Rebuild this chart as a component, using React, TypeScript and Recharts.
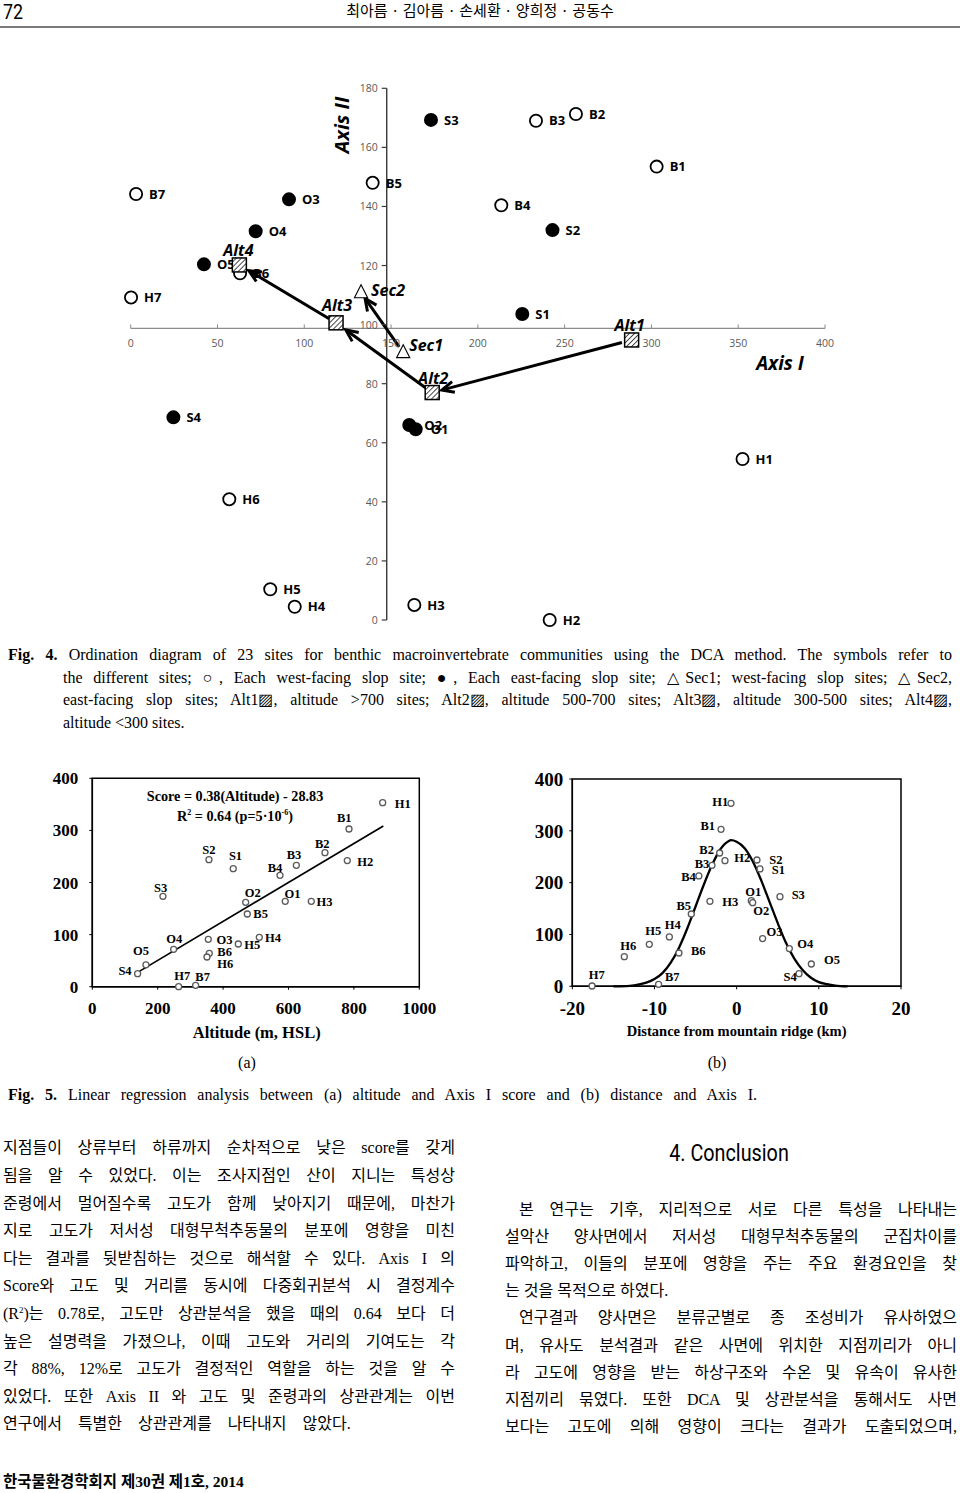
import React from 'react';
import {
  ScatterChart, Scatter, ComposedChart, Line, XAxis, YAxis,
  ReferenceLine, ReferenceDot, ReferenceArea,
} from 'recharts';

// ---------------- Fig. 4 : DCA ordination ----------------
const westSites = [
  { name: 'B1', x: 303, y: 153.5 },
  { name: 'B2', x: 256.5, y: 171.3 },
  { name: 'B3', x: 233.5, y: 169 },
  { name: 'B4', x: 213.5, y: 140.4 },
  { name: 'B5', x: 139.4, y: 148 },
  { name: 'B6', x: 63, y: 117.4 },
  { name: 'B7', x: 3.1, y: 144.2 },
  { name: 'H1', x: 352.5, y: 54.5 },
  { name: 'H2', x: 241.4, y: 0 },
  { name: 'H3', x: 163.4, y: 5.1 },
  { name: 'H4', x: 94.5, y: 4.5 },
  { name: 'H5', x: 80.4, y: 10.4 },
  { name: 'H6', x: 56.8, y: 40.9 },
  { name: 'H7', x: 0.2, y: 109.2 },
];
const eastSites = [
  { name: 'S1', x: 225.6, y: 103.6 },
  { name: 'S2', x: 243, y: 132 },
  { name: 'S3', x: 173, y: 169.3 },
  { name: 'S4', x: 24.6, y: 68.6 },
  { name: 'O2', x: 160.5, y: 66 },
  { name: 'O1', x: 164.2, y: 64.6 },
  { name: 'O3', x: 91.2, y: 142.4 },
  { name: 'O4', x: 72, y: 131.6 },
  { name: 'O5', x: 42.2, y: 120.4 },
];
const slopeCentroids = [
  { name: 'Sec1', x: 157, y: 90.5 },
  { name: 'Sec2', x: 132.7, y: 110.8 },
];
const altitudeCentroids = [
  { name: 'Alt1', x: 288.6, y: 94.8 },
  { name: 'Alt2', x: 173.7, y: 77 },
  { name: 'Alt3', x: 118.3, y: 100.6 },
  { name: 'Alt4', x: 62.6, y: 120.2 },
];
const gradientArrows = [
  ['Alt1', 'Alt2'],
  ['Alt2', 'Alt3'],
  ['Alt3', 'Alt4'],
  ['Sec1', 'Sec2'],
];
const dcaXTicks = [0, 50, 100, 150, 200, 250, 300, 350, 400];
const dcaYTicks = [0, 20, 40, 60, 80, 100, 120, 140, 160, 180];
const dcaAxisCross = { x: 147.5, y: 98.7 };

// ---------------- Fig. 5a : altitude vs Axis I ----------------
const altitudeScores = [
  { name: 'S4', altitude: 138.6, score: 25 },
  { name: 'O5', altitude: 164, score: 42 },
  { name: 'O4', altitude: 248.7, score: 71.7 },
  { name: 'S3', altitude: 216, score: 173.4 },
  { name: 'S2', altitude: 356.8, score: 243.8 },
  { name: 'S1', altitude: 431, score: 226.6 },
  { name: 'H7', altitude: 264, score: 0 },
  { name: 'B7', altitude: 316, score: 2.6 },
  { name: 'O3', altitude: 354.7, score: 90.9 },
  { name: 'B6', altitude: 357.8, score: 64 },
  { name: 'H6', altitude: 350.7, score: 57 },
  { name: 'H5', altitude: 446.5, score: 82 },
  { name: 'H4', altitude: 510.7, score: 94.7 },
  { name: 'O2', altitude: 469, score: 162 },
  { name: 'B5', altitude: 474, score: 139.5 },
  { name: 'B4', altitude: 574, score: 213.8 },
  { name: 'O1', altitude: 590, score: 163.8 },
  { name: 'B3', altitude: 624, score: 233 },
  { name: 'H3', altitude: 669.7, score: 163.8 },
  { name: 'B2', altitude: 711.5, score: 257.3 },
  { name: 'H2', altitude: 779.8, score: 242 },
  { name: 'B1', altitude: 785, score: 302.7 },
  { name: 'H1', altitude: 888, score: 353.3 },
];
const altitudeTrend = [
  { altitude: 140, score: 28 },
  { altitude: 890, score: 308.5 },
];
const altitudeTicks = [0, 200, 400, 600, 800, 1000];
const scoreTicks = [0, 100, 200, 300, 400];

// ---------------- Fig. 5b : distance vs Axis I ----------------
const distanceScores = [
  { name: 'H1', distance: -0.69, score: 353 },
  { name: 'B1', distance: -1.9, score: 302.9 },
  { name: 'B2', distance: -2.07, score: 257.2 },
  { name: 'H2', distance: -1.42, score: 242.4 },
  { name: 'B3', distance: -3.0, score: 233.4 },
  { name: 'B4', distance: -4.6, score: 212.9 },
  { name: 'H3', distance: -3.25, score: 164 },
  { name: 'B5', distance: -5.52, score: 139.5 },
  { name: 'H4', distance: -8.19, score: 95.2 },
  { name: 'H5', distance: -10.63, score: 81 },
  { name: 'H6', distance: -13.67, score: 57.2 },
  { name: 'B6', distance: -7.02, score: 64.3 },
  { name: 'H7', distance: -17.6, score: 0.6 },
  { name: 'B7', distance: -9.5, score: 3.9 },
  { name: 'S2', distance: 2.47, score: 243.7 },
  { name: 'S1', distance: 2.84, score: 226.4 },
  { name: 'O1', distance: 1.78, score: 165.3 },
  { name: 'O2', distance: 1.95, score: 161.4 },
  { name: 'S3', distance: 5.27, score: 173 },
  { name: 'O3', distance: 3.16, score: 92 },
  { name: 'O4', distance: 6.41, score: 72.7 },
  { name: 'O5', distance: 9.09, score: 43 },
  { name: 'S4', distance: 7.59, score: 24.4 },
];
const distanceCurve = [
  { distance: -15, score: 0 },
  { distance: -13, score: 1 },
  { distance: -12, score: 3 },
  { distance: -11, score: 7 },
  { distance: -10, score: 14 },
  { distance: -9, score: 26 },
  { distance: -8, score: 46 },
  { distance: -7, score: 75 },
  { distance: -6, score: 112 },
  { distance: -5, score: 154 },
  { distance: -4, score: 196 },
  { distance: -3, score: 234 },
  { distance: -2, score: 264 },
  { distance: -1, score: 280 },
  { distance: -0.7, score: 282 },
  { distance: 0, score: 279 },
  { distance: 1, score: 266 },
  { distance: 2, score: 240 },
  { distance: 3, score: 204 },
  { distance: 4, score: 163 },
  { distance: 5, score: 122 },
  { distance: 6, score: 84 },
  { distance: 7, score: 54 },
  { distance: 8, score: 32 },
  { distance: 9, score: 17 },
  { distance: 10, score: 8 },
  { distance: 11, score: 4 },
  { distance: 12, score: 1.5 },
  { distance: 13.5, score: 0 },
];
const distanceTicks = [-20, -10, 0, 10, 20];

// ---------------- text ----------------
const bodyLeft = [
  '지점들이 상류부터 하류까지 순차적으로 낮은 score를 갖게',
  '됨을 알 수 있었다. 이는 조사지점인 산이 지니는 특성상',
  '준령에서 멀어질수록 고도가 함께 낮아지기 때문에, 마찬가',
  '지로 고도가 저서성 대형무척추동물의 분포에 영향을 미친',
  '다는 결과를 뒷받침하는 것으로 해석할 수 있다. Axis I 의',
  'Score와 고도 및 거리를 동시에 다중회귀분석 시 결정계수',
  'R2LINE',
  '높은 설명력을 가졌으나, 이때 고도와 거리의 기여도는 각',
  '각 88%, 12%로 고도가 결정적인 역할을 하는 것을 알 수',
  '있었다. 또한 Axis II 와 고도 및 준령과의 상관관계는 이번',
  '연구에서 특별한 상관관계를 나타내지 않았다.',
];
const bodyRight = [
  '본 연구는 기후, 지리적으로 서로 다른 특성을 나타내는',
  '설악산 양사면에서 저서성 대형무척추동물의 군집차이를',
  '파악하고, 이들의 분포에 영향을 주는 주요 환경요인을 찾',
  '는 것을 목적으로 하였다.',
  '연구결과 양사면은 분류군별로 종 조성비가 유사하였으',
  '며, 유사도 분석결과 같은 사면에 위치한 지점끼리가 아니',
  '라 고도에 영향을 받는 하상구조와 수온 및 유속이 유사한',
  '지점끼리 묶였다. 또한 DCA 및 상관분석을 통해서도 사면',
  '보다는 고도에 의해 영향이 크다는 결과가 도출되었으며,',
];

// ---------------- styles ----------------
const SANS = '"Open Sans", "Noto Sans", sans-serif';
const SERIF = '"Liberation Serif", "Times New Roman", serif';
const KR = '"Liberation Serif", "Noto Sans CJK KR", serif';

const ptLabel: React.CSSProperties = { fontFamily: SANS, fontWeight: 700, fontSize: 13, fill: '#000' };
const centroidLabel: React.CSSProperties = { fontFamily: SANS, fontWeight: 700, fontStyle: 'italic', fontSize: 16, fill: '#000' };
const dcaTickFont: React.CSSProperties = { fontFamily: SANS, fontSize: 10.5, fill: '#595959' };
const smallLabel: React.CSSProperties = { fontFamily: SERIF, fontWeight: 700, fontSize: 12.5, fill: '#000' };

const centroidLabelPos: Record<string, [number, number, 'start' | 'middle']> = {
  Alt1: [-2, -15, 'middle'],
  Alt2: [1, -14, 'middle'],
  Alt3: [1, -18, 'middle'],
  Alt4: [-1, -15, 'middle'],
  Sec1: [6, -7, 'start'],
  Sec2: [10, -3, 'start'],
};
const arrowGaps: Record<string, [number, number]> = {
  'Alt1>Alt2': [10, 10],
  'Alt2>Alt3': [7, 12],
  'Alt3>Alt4': [8, 11],
  'Sec1>Sec2': [7, 7],
};

type Anchor = 'start' | 'middle' | 'end';
const labelPosA: Record<string, [number, number, Anchor]> = {
  H1: [12, 1, 'start'], B1: [-4.7, -10.7, 'middle'], B2: [-2.7, -9.3, 'middle'],
  H2: [10, 1, 'start'], B3: [-2.3, -11, 'middle'], B4: [-5, -8, 'middle'],
  S2: [0, -10.3, 'middle'], S1: [2.3, -13, 'middle'], S3: [-2.3, -8.7, 'middle'],
  O2: [7, -9.3, 'middle'], O1: [7.3, -7.7, 'middle'], H3: [5.3, 0, 'start'],
  B5: [6, 0, 'start'], H4: [5.7, 0, 'start'], H5: [6, 1, 'start'],
  O3: [8.3, 0.7, 'start'], B6: [8, -1.7, 'start'], H6: [10.3, 6.3, 'start'],
  O4: [0.7, -10.3, 'middle'], O5: [-5, -13.7, 'middle'], S4: [-6, -2.7, 'end'],
  H7: [3.7, -11.3, 'middle'], B7: [7, -8.7, 'middle'],
};
const labelPosB: Record<string, [number, number, Anchor]> = {
  H1: [-2.7, -2, 'end'], B1: [-6, -3.7, 'end'], B2: [-5.7, -3.7, 'end'],
  H2: [9.3, -3.3, 'start'], B3: [-2.7, -1.3, 'end'], B4: [-3, 0.7, 'end'],
  H3: [12.3, 0, 'start'], B5: [-0.3, -8, 'end'], H4: [3.3, -12.3, 'middle'],
  H5: [4, -13.3, 'middle'], H6: [4, -10.7, 'middle'], B6: [12, -1.7, 'start'],
  H7: [4.7, -11.3, 'middle'], B7: [6.3, -7.7, 'start'], S2: [12.3, 0, 'start'],
  S1: [11.7, 1, 'start'], O1: [2, -8.7, 'middle'], O2: [0.7, 8.3, 'start'],
  S3: [11.7, -1.7, 'start'], O3: [4, -6.7, 'start'], O4: [8, -5, 'start'],
  O5: [12.7, -4.3, 'start'], S4: [-2.3, 3, 'end'],
};

// ---------------- shapes ----------------
const siteShape = (filled: boolean) => (p: any) => {
  const { cx, cy, payload } = p;
  const dx = payload.name === 'O1' || payload.name === 'O2' ? 15 : 13;
  return (
    <g>
      <circle cx={cx} cy={cy} r={6.1} fill={filled ? '#000' : '#fff'} stroke="#000" strokeWidth={1.8} />
      <text x={cx + dx} y={cy + 4.7} style={ptLabel}>{payload.name}</text>
    </g>
  );
};
const triangleShape = (p: any) => {
  const { cx, cy, payload } = p;
  const [dx, dy, anchor] = centroidLabelPos[payload.name];
  return (
    <g>
      <path d={`M${cx},${cy - 8} L${cx - 6.6},${cy + 5} L${cx + 6.6},${cy + 5} Z`} fill="#fff" stroke="#000" strokeWidth={1.1} />
      <text x={cx + dx} y={cy + dy + 5.8} textAnchor={anchor} style={centroidLabel}>{payload.name}</text>
    </g>
  );
};
const squareShape = (p: any) => {
  const { cx, cy, payload } = p;
  const [dx, dy, anchor] = centroidLabelPos[payload.name];
  return (
    <g>
      <rect x={cx - 7} y={cy - 7} width={14} height={14} fill="#fff" />
      <rect x={cx - 7} y={cy - 7} width={14} height={14} fill="url(#hatch)" stroke="#000" strokeWidth={1.5} />
      <text x={cx + dx} y={cy + dy + 5.8} textAnchor={anchor} style={centroidLabel}>{payload.name}</text>
    </g>
  );
};
const arrowShape = (gap: [number, number]) => (p: any) => {
  const { x1, y1, x2, y2 } = p;
  if ([x1, y1, x2, y2].some((v) => typeof v !== 'number' || isNaN(v))) return <g />;
  const len = Math.hypot(x2 - x1, y2 - y1);
  const ux = (x2 - x1) / len;
  const uy = (y2 - y1) / len;
  const sx = x1 + ux * gap[0];
  const sy = y1 + uy * gap[0];
  const ex = x2 - ux * gap[1];
  const ey = y2 - uy * gap[1];
  const ah = 12;
  const aw = 5.5;
  const bx = ex - ux * ah;
  const by = ey - uy * ah;
  return (
    <g>
      <line x1={sx} y1={sy} x2={ex - ux * 1.5} y2={ey - uy * 1.5} stroke="#000" strokeWidth={3} />
      <polyline
        points={`${bx - uy * aw},${by + ux * aw} ${ex},${ey} ${bx + uy * aw},${by - ux * aw}`}
        fill="none" stroke="#000" strokeWidth={3} strokeLinejoin="miter"
      />
    </g>
  );
};
const smallPointShape = (pos: Record<string, [number, number, Anchor]>) => (p: any) => {
  const { cx, cy, payload } = p;
  const [dx, dy, anchor] = pos[payload.name] || [8, 0, 'start'];
  return (
    <g>
      <circle cx={cx} cy={cy} r={3} fill="#fff" stroke="#5a5a5a" strokeWidth={1.3} />
      <text x={cx + dx} y={cy + dy + 4.2} textAnchor={anchor} style={smallLabel}>{payload.name}</text>
    </g>
  );
};

// ---------------- helpers ----------------
const Abs = ({ x, y, children, style }: any) => (
  <div style={{ position: 'absolute', left: x, top: y, transform: 'translate(-50%,-50%)', whiteSpace: 'nowrap', lineHeight: 1, ...style }}>
    {children}
  </div>
);
const JLine = ({ left, top, width, size, justify = true, children, style }: any) => (
  <div
    style={{
      position: 'absolute', left, top, width, fontSize: size, lineHeight: `${Math.round(size * 1.25)}px`,
      textAlign: justify ? 'justify' : 'left', textAlignLast: justify ? 'justify' : 'left', ...style,
    }}
  >
    {children}
  </div>
);

function DcaChart() {
  const all = [...slopeCentroids, ...altitudeCentroids];
  const find = (n: string) => all.find((d) => d.name === n)!;
  return (
    <ScatterChart width={960} height={640} margin={{ top: 88.3, right: 135, bottom: 20, left: 130.7 }}>
      <XAxis type="number" dataKey="x" domain={[0, 400]} hide />
      <YAxis type="number" dataKey="y" domain={[0, 180]} hide />
      <ReferenceLine segment={[{ x: 0, y: dcaAxisCross.y }, { x: 400, y: dcaAxisCross.y }]} stroke="#8c8c8c" strokeWidth={1.2} />
      <ReferenceLine segment={[{ x: dcaAxisCross.x, y: 0 }, { x: dcaAxisCross.x, y: 180 }]} stroke="#3a3a3a" strokeWidth={1.4} />
      {dcaXTicks.map((t) => (
        <ReferenceDot
          key={'xt' + t} x={t} y={dcaAxisCross.y} r={0}
          shape={(p: any) => (
            <g>
              <line x1={p.cx} y1={p.cy} x2={p.cx} y2={p.cy - 4} stroke="#8c8c8c" strokeWidth={1} />
              <text x={p.cx} y={p.cy + 18.7} textAnchor="middle" style={dcaTickFont}>{t}</text>
            </g>
          )}
        />
      ))}
      {dcaYTicks.map((t) => (
        <ReferenceDot
          key={'yt' + t} x={dcaAxisCross.x} y={t} r={0}
          shape={(p: any) => (
            <g>
              <line x1={p.cx - 5} y1={p.cy} x2={p.cx} y2={p.cy} stroke="#3a3a3a" strokeWidth={1.2} />
              <text x={p.cx - 9} y={p.cy + 4} textAnchor="end" style={dcaTickFont}>{t}</text>
            </g>
          )}
        />
      ))}
      {gradientArrows.map(([a, b]) => {
        const A = find(a);
        const B = find(b);
        return (
          <ReferenceLine
            key={a + b}
            segment={[{ x: A.x, y: A.y }, { x: B.x, y: B.y }]}
            shape={arrowShape(arrowGaps[`${a}>${b}`])}
          />
        );
      })}
      <Scatter data={westSites} shape={siteShape(false)} isAnimationActive={false} />
      <Scatter data={eastSites} shape={siteShape(true)} isAnimationActive={false} />
      <Scatter data={slopeCentroids} shape={triangleShape} isAnimationActive={false} />
      <Scatter data={altitudeCentroids} shape={squareShape} isAnimationActive={false} />
    </ScatterChart>
  );
}

const axisTickA = { fontFamily: SERIF, fontWeight: 700, fontSize: 17, fill: '#000' };
const axisTickB = { fontFamily: SERIF, fontWeight: 700, fontSize: 19, fill: '#000' };

function AltitudeChart() {
  return (
    <ComposedChart width={440} height={300} margin={{ top: 18.3, right: 20.7, bottom: 43.3, left: 0 }}>
      <XAxis type="number" dataKey="altitude" domain={[0, 1000]} ticks={altitudeTicks} interval={0}
        tick={axisTickA} tickSize={3} tickMargin={12} height={30} axisLine={{ stroke: '#000', strokeWidth: 1.5 }} tickLine={{ stroke: '#000' }} />
      <YAxis type="number" dataKey="score" domain={[0, 400]} ticks={scoreTicks} interval={0}
        tick={axisTickA} tickSize={3} tickMargin={11} width={92.3} axisLine={{ stroke: '#000', strokeWidth: 1.5 }} tickLine={{ stroke: '#000' }} />
      <ReferenceArea x1={0} x2={1000} y1={0} y2={400} fill="none" stroke="#000" strokeWidth={1.5} />
      <Line data={altitudeTrend} dataKey="score" type="linear" stroke="#000" strokeWidth={1.7} dot={false} isAnimationActive={false} />
      <Scatter data={altitudeScores} dataKey="score" shape={smallPointShape(labelPosA)} isAnimationActive={false} />
    </ComposedChart>
  );
}

function DistanceChart() {
  return (
    <ComposedChart width={460} height={300} margin={{ top: 19, right: 29, bottom: 43.7, left: 0 }}>
      <XAxis type="number" dataKey="distance" domain={[-20, 20]} ticks={distanceTicks} interval={0}
        tick={axisTickB} tickSize={3} tickMargin={12} height={30} axisLine={{ stroke: '#000', strokeWidth: 1.5 }} tickLine={{ stroke: '#000' }} />
      <YAxis type="number" dataKey="score" domain={[0, 400]} ticks={scoreTicks} interval={0}
        tick={axisTickB} tickSize={3} tickMargin={6} width={102.3} axisLine={{ stroke: '#000', strokeWidth: 1.5 }} tickLine={{ stroke: '#000' }} />
      <ReferenceArea x1={-20} x2={20} y1={0} y2={400} fill="none" stroke="#000" strokeWidth={1.5} />
      <Line data={distanceCurve} dataKey="score" type="monotone" stroke="#000" strokeWidth={2.3} dot={false} isAnimationActive={false} />
      <Scatter data={distanceScores} dataKey="score" shape={smallPointShape(labelPosB)} isAnimationActive={false} />
    </ComposedChart>
  );
}

export default function App() {
  const capSize = 16;
  return (
    <div style={{ position: 'absolute', left: 0, top: 0, width: 960, height: 1493, overflow: 'hidden', background: '#fff', color: '#000' }}>
      <svg width={0} height={0} style={{ position: 'absolute' }}>
        <defs>
          <pattern id="hatch" patternUnits="userSpaceOnUse" width={3.6} height={3.6} patternTransform="rotate(45)">
            <line x1={0} y1={0} x2={0} y2={3.6} stroke="#000" strokeWidth={1.4} />
          </pattern>
        </defs>
      </svg>

      {/* header */}
      <div style={{ position: 'absolute', left: 3, top: 0, fontFamily: 'Roboto, sans-serif', fontSize: 21, lineHeight: '24px', transform: 'scaleX(0.85)', transformOrigin: 'left center' }}>72</div>
      <Abs x={480} y={9} style={{ fontFamily: '"Noto Sans CJK KR", sans-serif', fontSize: 15 }}>최아름 · 김아름 · 손세환 · 양희정 · 공동수</Abs>
      <div style={{ position: 'absolute', left: 0, top: 26, width: 960, height: 2, background: '#7a7a7a' }} />

      {/* Fig. 4 */}
      <div style={{ position: 'absolute', left: 0, top: 0 }}>
        <DcaChart />
      </div>
      <div style={{ position: 'absolute', left: 341.7, top: 125, transform: 'translate(-50%,-50%) rotate(-90deg)', fontFamily: SANS, fontWeight: 700, fontStyle: 'italic', fontSize: 20, whiteSpace: 'nowrap', lineHeight: 1 }}>Axis II</div>
      <Abs x={780} y={363} style={{ fontFamily: SANS, fontWeight: 700, fontStyle: 'italic', fontSize: 19 }}>Axis I</Abs>

      <div style={{ fontFamily: SERIF }}>
        <JLine left={8} top={645} width={944} size={capSize}>
          <b>Fig. 4.</b> Ordination diagram of 23 sites for benthic macroinvertebrate communities using the DCA method. The symbols refer to
        </JLine>
        <JLine left={63} top={667.5} width={889} size={capSize}>
          the different sites; ○, Each west-facing slop site; ●, Each east-facing slop site; △Sec1; west-facing slop sites; △Sec2,
        </JLine>
        <JLine left={63} top={690} width={889} size={capSize}>
          east-facing slop sites; Alt1▨, altitude &gt;700 sites; Alt2▨, altitude 500-700 sites; Alt3▨, altitude 300-500 sites; Alt4▨,
        </JLine>
        <JLine left={63} top={713} width={400} size={capSize} justify={false}>
          altitude &lt;300 sites.
        </JLine>
      </div>

      {/* Fig. 5 */}
      <div style={{ position: 'absolute', left: 0, top: 760 }}>
        <AltitudeChart />
      </div>
      <div style={{ position: 'absolute', left: 470, top: 760 }}>
        <DistanceChart />
      </div>
      <Abs x={235} y={796} style={{ fontFamily: SERIF, fontWeight: 700, fontSize: 14.2 }}>Score = 0.38(Altitude) - 28.83</Abs>
      <Abs x={235} y={816} style={{ fontFamily: SERIF, fontWeight: 700, fontSize: 14.2 }}>
        R<sup style={{ fontSize: 8 }}>2</sup> = 0.64 (p=5·10<sup style={{ fontSize: 8 }}>-6</sup>)
      </Abs>
      <Abs x={256.7} y={1032.7} style={{ fontFamily: SERIF, fontWeight: 700, fontSize: 16.5 }}>Altitude (m, HSL)</Abs>
      <Abs x={736.7} y={1030.7} style={{ fontFamily: SERIF, fontWeight: 700, fontSize: 14.5 }}>Distance from mountain ridge (km)</Abs>
      <Abs x={247} y={1063} style={{ fontFamily: SERIF, fontSize: 16 }}>(a)</Abs>
      <Abs x={717} y={1063} style={{ fontFamily: SERIF, fontSize: 16 }}>(b)</Abs>
      <JLine left={8} top={1085} width={749} size={capSize} style={{ fontFamily: SERIF }}>
        <b>Fig. 5.</b> Linear regression analysis between (a) altitude and Axis I score and (b) distance and Axis I.
      </JLine>

      {/* body text */}
      <div style={{ fontFamily: KR }}>
        {bodyLeft.map((line, i) => (
          <JLine key={'l' + i} left={3} top={1148.3 + i * 27.6 - 10} width={452} size={16}
            justify={i < bodyLeft.length - 1} style={i === bodyLeft.length - 1 ? { wordSpacing: 12 } : undefined}>
            {line === 'R2LINE' ? (
              <span>(R<sup style={{ fontSize: 9, lineHeight: 0 }}>2</sup>)는 0.78로, 고도만 상관분석을 했을 때의 0.64 보다 더</span>
            ) : line}
          </JLine>
        ))}
        <Abs x={729} y={1153} style={{ fontFamily: 'Roboto, sans-serif', fontSize: 23, transform: 'translate(-50%,-50%) scaleX(0.86)' }}>4. Conclusion</Abs>
        {bodyRight.map((line, i) => {
          const indent = i === 0 || i === 4;
          return (
            <JLine key={'r' + i} left={indent ? 519 : 505} top={1210 + i * 27.1 - 10} width={indent ? 438 : 452} size={16} justify={i !== 3}>
              {line}
            </JLine>
          );
        })}
      </div>

      {/* footer */}
      <div style={{ position: 'absolute', left: 3, top: 1473, fontFamily: KR, fontWeight: 700, fontSize: 15.5, lineHeight: '18px', whiteSpace: 'nowrap' }}>
        한국물환경학회지 제30권 제1호, 2014
      </div>
    </div>
  );
}
